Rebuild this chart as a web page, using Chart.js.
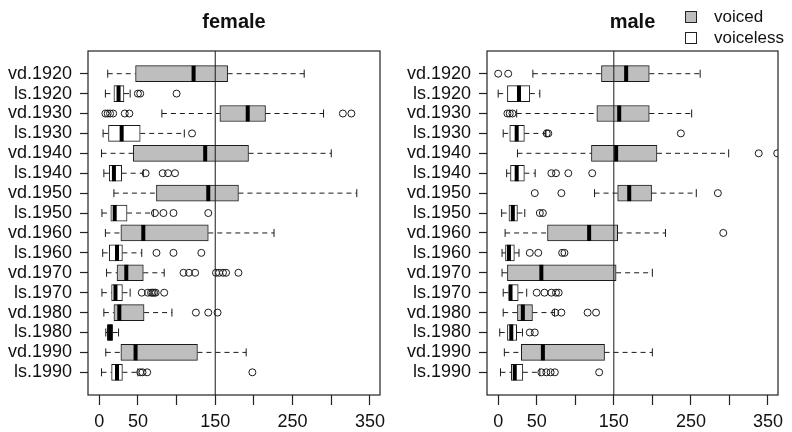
<!DOCTYPE html>
<html lang="en">
<head>
    <meta charset="UTF-8">
    <title>Duration boxplots by decade</title>
    <script src="https://cdn.jsdelivr.net/npm/chart.js"></script>
    <style>
        body {
            margin: 0;
            background: #fff;
            font-family: "Liberation Sans", Arial, sans-serif;
            color: #111;
        }
        .panel {
            position: absolute;
            top: 0;
            width: 396px;
            height: 432px;
        }
        .legend-item {
            position: absolute;
            left: 685px;
            font-size: 17px;
            line-height: 20px;
            height: 20px;
        }
        .legend-item .swatch {
            position: absolute;
            left: 0;
            top: 4px;
            width: 10px;
            height: 10px;
            border: 1px solid #222;
        }
        .legend-item span {
            position: absolute;
            left: 29px;
            white-space: nowrap;
        }
    </style>
</head>
<body>
    <div class="panel" style="left:0"><canvas id="femaleChart" width="396" height="432"></canvas></div>
    <div class="panel" style="left:396px"><canvas id="maleChart" width="396" height="432"></canvas></div>

    <div class="legend-item" style="top:7px"><div class="swatch" style="background:#bebebe"></div><span>voiced</span></div>
    <div class="legend-item" style="top:28px"><div class="swatch" style="background:#fff"></div><span>voiceless</span></div>

    <script>
        const rowLabels = ['vd.1920', 'ls.1920', 'vd.1930', 'ls.1930', 'vd.1940', 'ls.1940', 'vd.1950', 'ls.1950',
                           'vd.1960', 'ls.1960', 'vd.1970', 'ls.1970', 'vd.1980', 'ls.1980', 'vd.1990', 'ls.1990'];
        const xTickValues = [0, 50, 100, 150, 200, 250, 300, 350];
        const xTickLabels = ['0', '50', '', '150', '', '250', '', '350'];
        const refLine = 150;

        // female panel
        const femaleLow  = [11, 8, 81, 5, 3, 6, 19, 3.5, 8, 4.5, 9.5, 3.5, 6, 8.5, 8.5, 3];
        const femaleQ1   = [47, 19, 156, 12, 44, 13, 74, 15, 28, 13, 23, 16, 19, 10.5, 28, 16];
        const femaleMed  = [122, 25, 192, 29, 137, 19, 141, 20, 57, 23, 35, 21, 26, 14, 47, 23];
        const femaleQ3   = [166, 32, 215, 53, 193, 29, 180, 36, 141, 30, 57, 30, 58, 17.5, 127, 30];
        const femaleHigh = [265, 40, 290, 110, 300, 57, 333, 70, 226, 55, 84, 40, 94, 25, 190, 50];
        const femaleOut  = [
            [],
            [50, 53, 100],
            [8, 11, 14, 18, 33, 39, 315, 326],
            [120],
            [],
            [60, 82, 89, 98],
            [],
            [72, 83, 96, 141],
            [],
            [74, 96, 132],
            [109, 116, 124, 151, 155, 160, 164, 180],
            [55, 63, 67, 69, 71, 73, 84],
            [125, 141, 153],
            [],
            [],
            [53, 56, 62, 198]
        ];

        // male panel
        const maleLow  = [45, 0, 24, 6.5, 25, 11, 125, 4.5, 9, 5, 5, 6.5, 6.5, 2, 8, 3];
        const maleQ1   = [134, 12, 128, 15, 121, 16, 155, 14, 64, 9.5, 12, 14, 25, 12, 30, 17];
        const maleMed  = [166, 27, 157, 24, 153, 24, 170, 19, 118, 14, 56, 16, 32, 17, 58, 21.5];
        const maleQ3   = [196, 41, 196, 34, 206, 34, 199, 25, 155, 21, 153, 26, 44.5, 24, 138, 32];
        const maleHigh = [262, 54, 251, 62, 299, 48, 257, 34.5, 217, 27, 200, 37, 73, 31.5, 200, 54];
        const maleOut  = [
            [0, 13],
            [],
            [12, 15, 18.5],
            [63, 65, 237],
            [338, 362],
            [69, 75, 91, 122],
            [47.5, 82, 285],
            [54, 58],
            [292],
            [41, 52, 83, 86],
            [],
            [50, 60, 69, 75, 78.5],
            [74, 82, 116, 127],
            [41, 47.5],
            [],
            [56, 62.5, 68, 73.5, 131]
        ];

        const voicedColor = '#bebebe';
        const lineColor = '#1a1a1a';

        const boxplotExtras = {
            id: 'boxplotExtras',
            afterDatasetsDraw(chart, args, opts) {
                const ctx = chart.ctx;
                const xs = chart.scales.x;
                const ys = chart.scales.y;
                const area = chart.chartArea;
                const half = 8;
                ctx.save();
                ctx.beginPath();
                ctx.rect(area.left, area.top, area.right - area.left, area.bottom - area.top);
                ctx.clip();
                ctx.strokeStyle = lineColor;
                ctx.lineWidth = 1;
                for (let i = 0; i < rowLabels.length; i++) {
                    const y = ys.getPixelForValue(i);
                    const pLo = xs.getPixelForValue(opts.low[i]);
                    const pQ1 = xs.getPixelForValue(opts.q1[i]);
                    const pQ3 = xs.getPixelForValue(opts.q3[i]);
                    const pHi = xs.getPixelForValue(opts.high[i]);
                    // dashed whiskers
                    ctx.setLineDash([5, 4]);
                    ctx.beginPath();
                    ctx.moveTo(pLo, y); ctx.lineTo(pQ1, y);
                    ctx.moveTo(pQ3, y); ctx.lineTo(pHi, y);
                    ctx.stroke();
                    ctx.setLineDash([]);
                    // caps
                    ctx.beginPath();
                    ctx.moveTo(pLo, y - half / 2); ctx.lineTo(pLo, y + half / 2);
                    ctx.moveTo(pHi, y - half / 2); ctx.lineTo(pHi, y + half / 2);
                    ctx.stroke();
                    // median
                    const pMed = xs.getPixelForValue(opts.med[i]);
                    ctx.fillStyle = '#000';
                    ctx.fillRect(pMed - 2, y - half, 4, half * 2);
                    // outliers
                    opts.out[i].forEach(v => {
                        ctx.beginPath();
                        ctx.arc(xs.getPixelForValue(v), y, 3.5, 0, Math.PI * 2);
                        ctx.stroke();
                    });
                }
                // reference line
                const pRef = xs.getPixelForValue(refLine);
                ctx.beginPath();
                ctx.moveTo(pRef, area.top);
                ctx.lineTo(pRef, area.bottom);
                ctx.stroke();
                ctx.restore();
                // plot box
                ctx.save();
                ctx.strokeStyle = '#222';
                ctx.lineWidth = 1.2;
                ctx.strokeRect(area.left, area.top, area.right - area.left, area.bottom - area.top);
                ctx.restore();
            }
        };

        function makeChart(id, title, low, q1, med, q3, high, out, axisWidth, padRight) {
            const boxes = rowLabels.map((lab, i) => ({ y: i, x: [q1[i], q3[i]] }));
            new Chart(document.getElementById(id), {
                type: 'bar',
                data: {
                    datasets: [{
                        label: 'voiced',
                        data: boxes.filter((b, i) => i % 2 === 0),
                        backgroundColor: voicedColor,
                        borderColor: lineColor,
                        borderWidth: 1,
                        borderSkipped: false,
                        barThickness: 16
                    }, {
                        label: 'voiceless',
                        data: boxes.filter((b, i) => i % 2 === 1),
                        backgroundColor: '#ffffff',
                        borderColor: lineColor,
                        borderWidth: 1,
                        borderSkipped: false,
                        barThickness: 16
                    }]
                },
                options: {
                    indexAxis: 'y',
                    responsive: false,
                    animation: false,
                    grouped: false,
                    layout: { padding: { left: 0, right: padRight, top: 0, bottom: 0 } },
                    plugins: {
                        legend: { display: false },
                        tooltip: { enabled: false },
                        title: {
                            display: true,
                            text: title,
                            fullSize: false,
                            color: '#111',
                            font: { family: '"Liberation Sans", Arial, sans-serif', size: 20, weight: 'bold', lineHeight: 1.2 },
                            padding: { top: 10, bottom: 17 }
                        },
                        boxplotExtras: { low, q1, med, q3, high, out }
                    },
                    scales: {
                        x: {
                            type: 'linear',
                            min: -14.5,
                            max: 363,
                            border: { display: false },
                            grid: { drawOnChartArea: false, drawTicks: true, tickLength: 10, color: '#222', tickWidth: 1.2 },
                            afterBuildTicks: s => { s.ticks = xTickValues.map(v => ({ value: v })); },
                            afterFit: s => { s.height = 37; },
                            ticks: {
                                autoSkip: false,
                                maxRotation: 0,
                                padding: 6,
                                color: '#111',
                                font: { family: '"Liberation Sans", Arial, sans-serif', size: 18 },
                                callback: v => xTickLabels[xTickValues.indexOf(v)]
                            }
                        },
                        y: {
                            type: 'linear',
                            reverse: true,
                            offset: false,
                            min: -1.14,
                            max: 16.14,
                            border: { display: false },
                            grid: { offset: false, drawOnChartArea: false, drawTicks: true, tickLength: 8, color: '#222', tickWidth: 1.2 },
                            afterBuildTicks: s => { s.ticks = rowLabels.map((l, i) => ({ value: i })); },
                            afterFit: s => { s.width = axisWidth; },
                            ticks: {
                                autoSkip: false,
                                padding: 8,
                                color: '#111',
                                font: { family: '"Liberation Sans", Arial, sans-serif', size: 18 },
                                callback: v => rowLabels[v]
                            }
                        }
                    }
                },
                plugins: [boxplotExtras]
            });
        }

        makeChart('femaleChart', 'female', femaleLow, femaleQ1, femaleMed, femaleQ3, femaleHigh, femaleOut, 88, 16);
        makeChart('maleChart', 'male', maleLow, maleQ1, maleMed, maleQ3, maleHigh, maleOut, 91, 14);
    </script>
</body>
</html>
